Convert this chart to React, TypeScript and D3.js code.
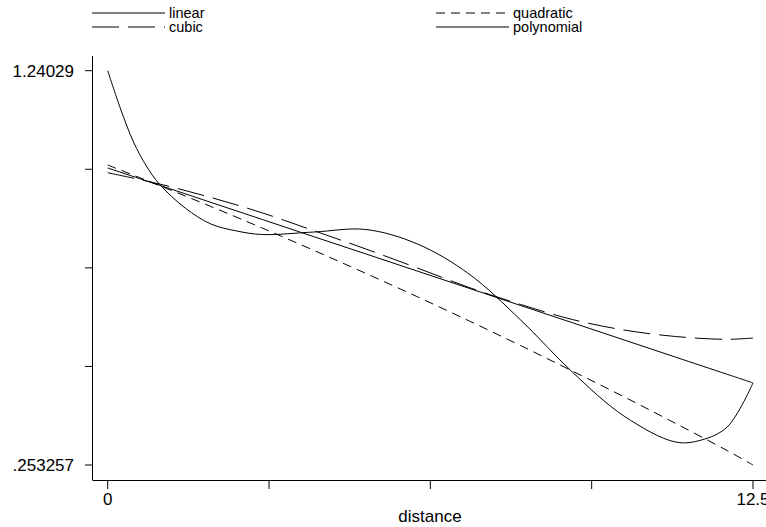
import React from 'react';
import * as d3 from 'd3';

// distance grid the fitted values were read at
const distance = [0, 1, 2, 3, 4, 5, 6, 7, 8, 9, 10, 11, 12, 12.5];
const linearFit = [0.9967, 0.9537, 0.9106, 0.8676, 0.8245, 0.7817, 0.7386, 0.6956, 0.6525, 0.6095, 0.5664, 0.5233, 0.4803, 0.4588];
const quadraticFit = [1.0042, 0.9529, 0.9003, 0.846, 0.7902, 0.7329, 0.6743, 0.614, 0.5521, 0.4885, 0.424, 0.3574, 0.2893, 0.253257];
const cubicFit = [0.9849, 0.9567, 0.9229, 0.8841, 0.8395, 0.794, 0.7464, 0.6976, 0.655, 0.6175, 0.5912, 0.5749, 0.5679, 0.5712];

const polyDistance = [0, 0.25, 0.5, 0.75, 1, 1.5, 2, 2.5, 3, 4, 5, 6, 7, 8, 9, 10, 11, 11.5, 12, 12.5];
const polynomialFit = [1.24029, 1.1444, 1.0618, 1.0017, 0.9567, 0.8966, 0.8565, 0.839, 0.8302, 0.8365, 0.8428, 0.8065, 0.7314, 0.6162, 0.486, 0.3759, 0.3108, 0.3158, 0.3484, 0.4585];

const xTicks = [0, 3.125, 6.25, 9.375, 12.5];
const xTickLabels = ['0', '', '', '', '12.5'];
const yTicks = [0.253257, 0.50001, 0.746774, 0.993532, 1.24029];
const yTickLabels = ['.253257', '', '', '', '1.24029'];

const legendNames = ['linear', 'quadratic', 'cubic', 'polynomial'];
const dashes = ['', '9,6', '27,9', ''];

const font = '"Liberation Sans", Arial, sans-serif';

export default function App() {
  const x = d3.scaleLinear().domain([0, 12.5]).range([107.7, 753]);
  const y = d3.scaleLinear().domain([0.253257, 1.24029]).range([465, 70.7]);

  const line = d3.line<[number, number]>()
    .x(d => x(d[0]))
    .y(d => y(d[1]))
    .curve(d3.curveCatmullRom);

  const series = [
    { pts: distance.map((d, i) => [d, linearFit[i]] as [number, number]), dash: dashes[0] },
    { pts: distance.map((d, i) => [d, quadraticFit[i]] as [number, number]), dash: dashes[1] },
    { pts: distance.map((d, i) => [d, cubicFit[i]] as [number, number]), dash: dashes[2] },
    { pts: polyDistance.map((d, i) => [d, polynomialFit[i]] as [number, number]), dash: dashes[3] },
  ];

  // legend: two columns, two rows
  const legendPos = [
    { lx: 92, ly: 13 },
    { lx: 436, ly: 13 },
    { lx: 92, ly: 27 },
    { lx: 436, ly: 27 },
  ];

  return (
    <svg width={766} height={527} style={{ position: 'absolute', left: 0, top: 0, background: '#fff' }}
      fontFamily={font}>
      {/* legend */}
      {legendNames.map((name, i) => (
        <g key={name}>
          <line x1={legendPos[i].lx} x2={legendPos[i].lx + 73} y1={legendPos[i].ly} y2={legendPos[i].ly}
            stroke="#000" strokeWidth={1} strokeDasharray={dashes[i] || undefined} />
          <text x={legendPos[i].lx + 77} y={legendPos[i].ly + 5} fontSize={14.5} fill="#000">{name}</text>
        </g>
      ))}

      {/* y axis */}
      <line x1={92.5} x2={92.5} y1={56} y2={480} stroke="#000" strokeWidth={1} />
      {yTicks.map((t, i) => (
        <g key={'y' + i}>
          <line x1={85} x2={92.5} y1={y(t)} y2={y(t)} stroke="#000" strokeWidth={1} />
          <text x={74} y={y(t) + 6} textAnchor="end" fontSize={17} fill="#000">{yTickLabels[i]}</text>
        </g>
      ))}

      {/* x axis */}
      <line x1={92.5} x2={766} y1={480.5} y2={480.5} stroke="#000" strokeWidth={1} />
      {xTicks.map((t, i) => (
        <g key={'x' + i}>
          <line x1={x(t)} x2={x(t)} y1={480.5} y2={489} stroke="#000" strokeWidth={1} />
          <text x={x(t)} y={505} textAnchor="middle" fontSize={17} fill="#000">{xTickLabels[i]}</text>
        </g>
      ))}
      <text x={430} y={522} textAnchor="middle" fontSize={17} fill="#000">distance</text>

      {/* fits */}
      {series.map((s, i) => (
        <path key={'s' + i} d={line(s.pts) || ''} fill="none" stroke="#000" strokeWidth={1}
          strokeDasharray={s.dash || undefined} />
      ))}
    </svg>
  );
}
